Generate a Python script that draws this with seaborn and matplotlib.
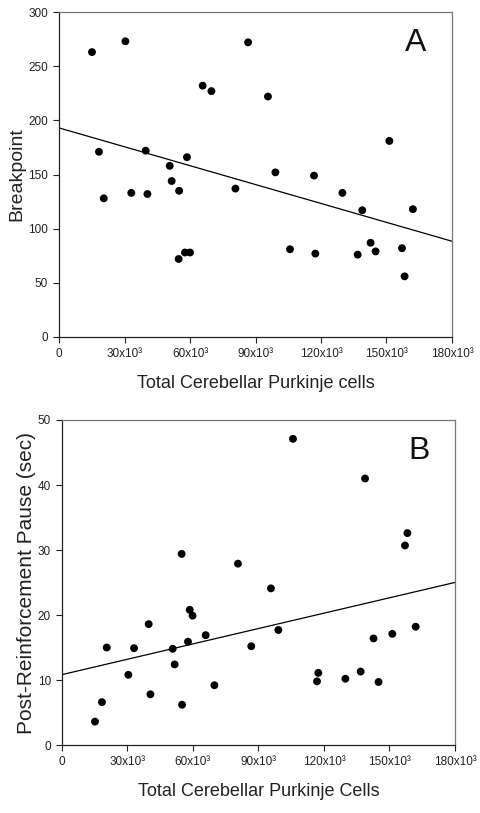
import numpy as np
import pandas as pd
import seaborn as sns
import matplotlib.pyplot as plt

# Panel A: breakpoint vs total Purkinje cells (x in thousands)
cells_a = [15.1, 30.4, 86.6, 65.8, 69.8, 95.7, 18.3, 39.7, 58.6, 50.7, 151.3,
           99.1, 116.8, 51.6, 55.0, 80.8, 129.8, 33.1, 40.5, 20.5, 138.9, 162.1,
           105.8, 117.4, 136.8, 142.7, 145.0, 157.1, 158.3, 54.8, 57.7, 60.0]
breakpoint = [263, 273, 272, 232, 227, 222, 171, 172, 166, 158, 181,
              152, 149, 144, 135, 137, 133, 133, 132, 128, 117, 118,
              81, 77, 76, 87, 79, 82, 56, 72, 78, 78]

# Panel B: post-reinforcement pause vs total Purkinje cells
cells_b = [105.8, 138.8, 158.2, 157.1, 54.8, 80.6, 95.7, 58.5, 59.8, 39.7, 162.0,
           99.1, 151.3, 65.8, 142.7, 57.7, 86.7, 20.5, 33.0, 50.7, 51.6, 30.4,
           136.8, 117.4, 116.8, 129.8, 145.0, 69.8, 40.5, 18.3, 55.0, 15.1]
pause = [47.1, 41.0, 32.6, 30.7, 29.4, 27.9, 24.1, 20.8, 19.9, 18.6, 18.2,
         17.7, 17.1, 16.9, 16.4, 15.9, 15.2, 15.0, 14.9, 14.8, 12.4, 10.8,
         11.3, 11.1, 9.8, 10.2, 9.7, 9.2, 7.8, 6.6, 6.2, 3.6]

x_ticks = [0, 30, 60, 90, 120, 150, 180]
x_ticklabels = ["0", "30x10³", "60x10³", "90x10³", "120x10³", "150x10³", "180x10³"]

df_a = pd.DataFrame({"cells": cells_a, "value": breakpoint})
df_b = pd.DataFrame({"cells": cells_b, "value": pause})

sns.set_style("white")
plt.rcParams["font.family"] = ["Liberation Sans", "DejaVu Sans"]

fig = plt.figure(figsize=(4.81, 8.13), dpi=100)
ax_a = fig.add_axes([0.1227, 0.5855, 0.817, 0.3997])
ax_b = fig.add_axes([0.1289, 0.0836, 0.817, 0.3998])

panels = [
    (ax_a, df_a, (0, 300), [0, 50, 100, 150, 200, 250, 300], "Breakpoint", 14, 2,
     "Total Cerebellar Purkinje cells", "A"),
    (ax_b, df_b, (0, 50), [0, 10, 20, 30, 40, 50], "Post-Reinforcement Pause (sec)", 15, 1,
     "Total Cerebellar Purkinje Cells", "B"),
]

for ax, df, ylim, yticks, ylabel, ysize, ypad, xlabel, letter in panels:
    ax.set_xlim(0, 180)
    ax.set_ylim(*ylim)
    sns.regplot(data=df, x="cells", y="value", ax=ax, ci=None, truncate=False,
                scatter_kws={"s": 32, "color": "black", "edgecolor": "none", "alpha": 1},
                line_kws={"color": "black", "linewidth": 0.9})
    ax.set_xlim(0, 180)
    ax.set_ylim(*ylim)
    ax.set_xticks(x_ticks)
    ax.set_xticklabels(x_ticklabels)
    ax.set_yticks(yticks)
    ax.tick_params(direction="out", length=4, width=0.8, labelsize=8.5,
                   colors="#222222", bottom=True, left=True, pad=4)
    ax.set_ylabel(ylabel, fontsize=ysize, color="#222222", labelpad=ypad)
    ax.set_xlabel(xlabel, fontsize=13, color="#222222", labelpad=11)
    for side in ["left", "bottom"]:
        ax.spines[side].set_color("#222222")
        ax.spines[side].set_linewidth(0.9)
    for side in ["top", "right"]:
        ax.spines[side].set_color("#777777")
        ax.spines[side].set_linewidth(0.9)
    ax.text(0.908, 0.905, letter, transform=ax.transAxes, fontsize=23,
            ha="center", va="center", color="#111111")

plt.savefig("out.png", dpi=100)
